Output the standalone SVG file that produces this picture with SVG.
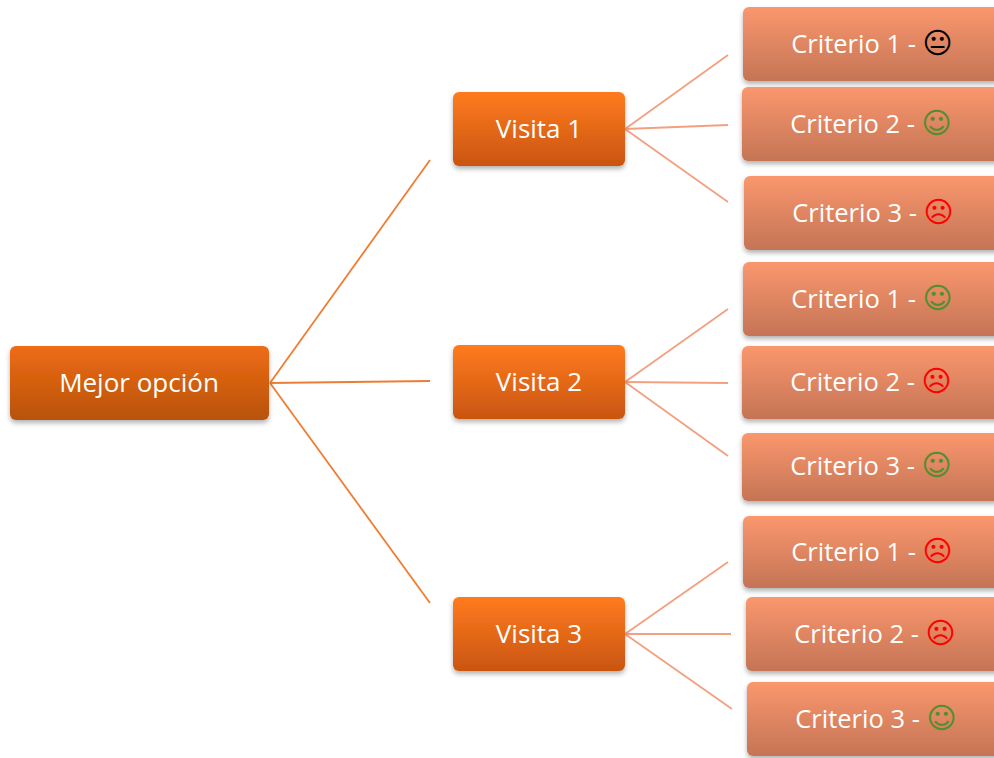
<svg xmlns="http://www.w3.org/2000/svg" width="994" height="758" viewBox="0 0 994 758">
<defs>
<linearGradient id="gMain" x1="0" y1="0" x2="0" y2="1"><stop offset="0" stop-color="#EE6C14"/><stop offset="1" stop-color="#B8520C"/></linearGradient>
<linearGradient id="gVis" x1="0" y1="0" x2="0" y2="1"><stop offset="0" stop-color="#FF7B1F"/><stop offset="1" stop-color="#C95510"/></linearGradient>
<linearGradient id="gCri" x1="0" y1="0" x2="0" y2="1"><stop offset="0" stop-color="#FA976E"/><stop offset="1" stop-color="#C47455"/></linearGradient>
<filter id="sh" x="-10%" y="-20%" width="120%" height="150%"><feDropShadow dx="0" dy="3" stdDeviation="2.5" flood-color="#000" flood-opacity="0.3"/></filter>
</defs>
<style>
.t{font-family:"Open Sans","Liberation Sans",sans-serif;font-size:26px;fill:#fff;text-anchor:middle}
.tc{font-size:25.5px}
.f{font-family:"DejaVu Sans",sans-serif;font-size:29px}
.ok{fill:#4F8F2F}.bad{fill:#FF0000}.neu{fill:#000}
.c1{stroke:#EE7D33;stroke-width:1.8;fill:none}
.c2{stroke:#F4A080;stroke-width:1.8;fill:none}
</style>
<g id="connectors">
<line class="c1" x1="270" y1="383" x2="430" y2="160"/>
<line class="c1" x1="270" y1="383" x2="430" y2="381"/>
<line class="c1" x1="270" y1="383" x2="430" y2="603"/>
<line class="c2" x1="625" y1="129" x2="728" y2="55"/>
<line class="c2" x1="625" y1="129" x2="728" y2="125"/>
<line class="c2" x1="625" y1="129" x2="728" y2="202"/>
<line class="c2" x1="625" y1="382" x2="728" y2="309"/>
<line class="c2" x1="625" y1="382" x2="728" y2="383"/>
<line class="c2" x1="625" y1="382" x2="728" y2="456"/>
<line class="c2" x1="625" y1="634" x2="728" y2="562"/>
<line class="c2" x1="625" y1="634" x2="731" y2="634"/>
<line class="c2" x1="625" y1="634" x2="732" y2="709"/>
</g>
<g id="main"><rect x="10" y="346" width="259" height="74" rx="6" fill="url(#gMain)" filter="url(#sh)"/><text class="t" x="139" y="392">Mejor opción</text></g>
<g id="visita1"><rect x="453" y="92" width="172" height="74" rx="6" fill="url(#gVis)" filter="url(#sh)"/><text class="t" x="539" y="138">Visita 1</text></g>
<g id="visita2"><rect x="453" y="345" width="172" height="74" rx="6" fill="url(#gVis)" filter="url(#sh)"/><text class="t" x="539" y="391">Visita 2</text></g>
<g id="visita3"><rect x="453" y="597" width="172" height="74" rx="6" fill="url(#gVis)" filter="url(#sh)"/><text class="t" x="539" y="643">Visita 3</text></g>
<g id="v1c1"><rect x="743" y="7" width="262" height="74" rx="6" fill="url(#gCri)" filter="url(#sh)"/><text class="t tc" x="872" y="53">Criterio 1 - <tspan class="f neu">😐</tspan></text></g>
<g id="v1c2"><rect x="742" y="87" width="262" height="74" rx="6" fill="url(#gCri)" filter="url(#sh)"/><text class="t tc" x="871" y="133">Criterio 2 - <tspan class="f ok">☺</tspan></text></g>
<g id="v1c3"><rect x="744" y="176" width="262" height="74" rx="6" fill="url(#gCri)" filter="url(#sh)"/><text class="t tc" x="873" y="222">Criterio 3 - <tspan class="f bad">☹</tspan></text></g>
<g id="v2c1"><rect x="743" y="262" width="262" height="74" rx="6" fill="url(#gCri)" filter="url(#sh)"/><text class="t tc" x="872" y="308">Criterio 1 - <tspan class="f ok">☺</tspan></text></g>
<g id="v2c2"><rect x="742" y="346" width="262" height="73" rx="6" fill="url(#gCri)" filter="url(#sh)"/><text class="t tc" x="871" y="391">Criterio 2 - <tspan class="f bad">☹</tspan></text></g>
<g id="v2c3"><rect x="742" y="433" width="262" height="68" rx="6" fill="url(#gCri)" filter="url(#sh)"/><text class="t tc" x="871" y="475">Criterio 3 - <tspan class="f ok">☺</tspan></text></g>
<g id="v3c1"><rect x="743" y="516" width="262" height="72" rx="6" fill="url(#gCri)" filter="url(#sh)"/><text class="t tc" x="872" y="561">Criterio 1 - <tspan class="f bad">☹</tspan></text></g>
<g id="v3c2"><rect x="746" y="597" width="262" height="74" rx="6" fill="url(#gCri)" filter="url(#sh)"/><text class="t tc" x="875" y="643">Criterio 2 - <tspan class="f bad">☹</tspan></text></g>
<g id="v3c3"><rect x="747" y="682" width="262" height="74" rx="6" fill="url(#gCri)" filter="url(#sh)"/><text class="t tc" x="876" y="728">Criterio 3 - <tspan class="f ok">☺</tspan></text></g>
</svg>
